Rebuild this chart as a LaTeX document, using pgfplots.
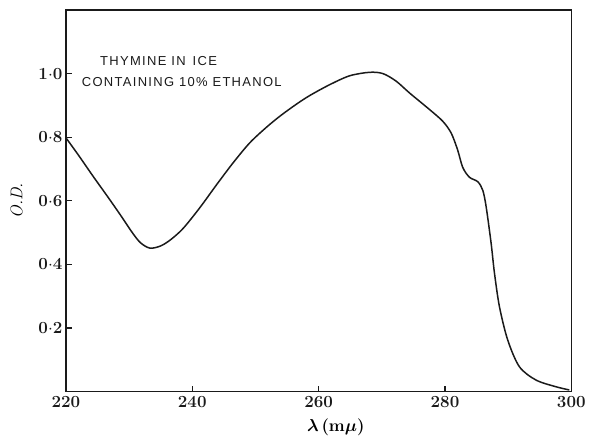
\documentclass[border=0pt]{standalone}
\usepackage{fontspec}
\usepackage{amsmath}
\usepackage{bm}
\usepackage{pgfplots}
\pgfplotsset{compat=1.18}
\newfontfamily\letterfont[LetterSpace=10]{Liberation Sans}
\definecolor{ink}{HTML}{1A1A1A}

\begin{document}
\begin{tikzpicture}
\begin{axis}[
  scale only axis,
  width=506pt,
  height=382pt,
  xmin=220, xmax=300,
  ymin=0, ymax=1.2,
  xtick={220,240,260,280,300},
  ytick={0.2,0.4,0.6,0.8,1.0},
  yticklabels={0$\cdot$2,0$\cdot$4,0$\cdot$6,0$\cdot$8,1$\cdot$0},
  tick pos=left,
  tick align=inside,
  major tick length=6pt,
  tick style={line width=1.1pt, color=ink},
  axis line style={line width=1.2pt, color=ink},
  /pgf/number format/assume math mode=true,
  tick label style={font=\fontsize{17}{19}\selectfont\bfseries, color=ink},
  xticklabel style={yshift=-1pt},
  yticklabel style={xshift=0pt},
  xlabel={$\bm{\lambda}$\,\textbf{(m}$\bm{\mu}$\textbf{)}},
  xlabel style={font=\fontsize{17}{19}\selectfont, at={(axis description cs:0.534,0)}, anchor=north, yshift=-24pt},
  ylabel={\textit{O.D.}},
  ylabel style={font=\fontsize{17}{19}\selectfont, yshift=9pt},
  clip=false,
]
\addplot[smooth, line width=1.5pt, color=ink] coordinates {
  (220.00,0.798) (222.00,0.743) (224.30,0.677) (226.60,0.613) (228.60,0.556)
  (230.50,0.500) (231.80,0.468) (233.30,0.451) (235.00,0.458) (236.60,0.478)
  (238.55,0.513) (241.19,0.578) (243.83,0.650) (246.45,0.719) (249.09,0.782)
  (251.73,0.831) (254.00,0.868) (256.50,0.904) (258.60,0.931) (261.74,0.965)
  (264.90,0.993) (268.06,1.004) (270.17,1.000) (272.28,0.976) (274.39,0.939)
  (277.55,0.887) (279.65,0.850) (280.98,0.813) (282.00,0.760) (282.81,0.705)
  (283.87,0.674) (285.19,0.660) (285.98,0.633) (286.51,0.582) (287.30,0.467)
  (287.83,0.373) (288.62,0.267) (289.93,0.162) (291.78,0.078) (294.42,0.036)
  (297.58,0.015) (299.68,0.005)
};
\node[anchor=base west, inner sep=0pt, font=\fontsize{13}{15}\letterfont, color=ink]
  at (axis cs:225.4,1.025) {THYMINE IN\, ICE};
\node[anchor=base west, inner sep=0pt, font=\fontsize{13}{15}\letterfont, color=ink]
  at (axis cs:222.5,0.959) {CONTAINING 10\% ETHANOL};
\end{axis}
\path (current axis.south west) ++(-66pt,-49pt) rectangle ++(589pt,441pt);
\end{tikzpicture}
\end{document}
